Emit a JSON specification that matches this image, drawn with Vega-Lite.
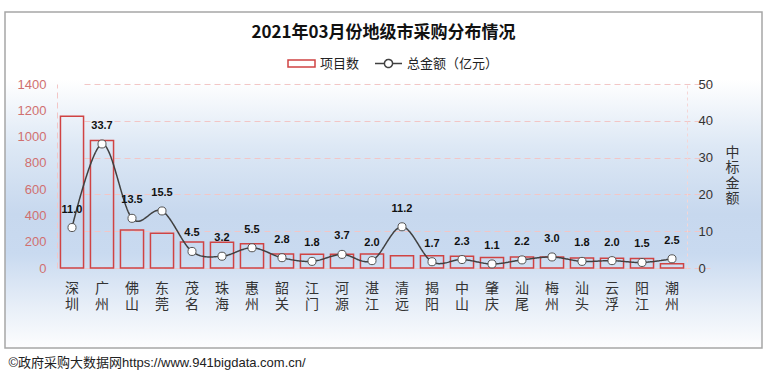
{
  "$schema": "https://vega.github.io/schema/vega-lite/v6.json",
  "width": 757,
  "height": 336,
  "autosize": {"type": "none"},
  "padding": {"left": 5, "top": 12, "right": 6, "bottom": 28},
  "background": "white",
  "config": {
    "view": {
      "fill": {
        "gradient": "linear",
        "x1": 0, "y1": 0, "x2": 0, "y2": 1,
        "stops": [
          {"offset": 0, "color": "#ffffff"},
          {"offset": 0.2, "color": "#ffffff"},
          {"offset": 0.4, "color": "#dde8f5"},
          {"offset": 0.6, "color": "#c7d8ee"},
          {"offset": 0.72, "color": "#c9daf0"},
          {"offset": 0.88, "color": "#e8eff8"},
          {"offset": 1, "color": "#fdfdfe"}
        ]
      },
      "stroke": "#a6a6a6",
      "strokeWidth": 1.5
    },
    "font": "Liberation Sans, Noto Sans CJK SC"
  },
  "title": {
    "text": "2021年03月份地级市采购分布情况",
    "font": "Noto Sans CJK SC",
    "fontSize": 17,
    "fontWeight": "bold",
    "color": "#111111",
    "anchor": "middle",
    "offset": -30
  },
  "data": {
    "values": [
      {"city": "深圳", "count": 1155, "amount": 11.0},
      {"city": "广州", "count": 970, "amount": 33.7},
      {"city": "佛山", "count": 290, "amount": 13.5},
      {"city": "东莞", "count": 265, "amount": 15.5},
      {"city": "茂名", "count": 198, "amount": 4.5},
      {"city": "珠海", "count": 195, "amount": 3.2},
      {"city": "惠州", "count": 185, "amount": 5.5},
      {"city": "韶关", "count": 107, "amount": 2.8},
      {"city": "江门", "count": 105, "amount": 1.8},
      {"city": "河源", "count": 104, "amount": 3.7},
      {"city": "湛江", "count": 106, "amount": 2.0},
      {"city": "清远", "count": 94, "amount": 11.2},
      {"city": "揭阳", "count": 93, "amount": 1.7},
      {"city": "中山", "count": 89, "amount": 2.3},
      {"city": "肇庆", "count": 80, "amount": 1.1},
      {"city": "汕尾", "count": 84, "amount": 2.2},
      {"city": "梅州", "count": 84, "amount": 3.0},
      {"city": "汕头", "count": 76, "amount": 1.8},
      {"city": "云浮", "count": 74, "amount": 2.0},
      {"city": "阳江", "count": 72, "amount": 1.5},
      {"city": "潮州", "count": 33, "amount": 2.5}
    ]
  },
  "encoding": {
    "x": {
      "field": "city",
      "type": "nominal",
      "sort": null,
      "scale": {"range": [52, 682], "paddingInner": 0.23, "paddingOuter": 0.115},
      "axis": {
        "orient": "bottom",
        "offset": -80,
        "labelAngle": 0,
        "labelExpr": "[substring(datum.label,0,1), substring(datum.label,1,2)]",
        "labelFont": "Noto Sans CJK SC",
        "labelFontSize": 14,
        "labelLineHeight": 16,
        "labelColor": "#333333",
        "labelPadding": 13,
        "labelOverlap": false,
        "ticks": false,
        "domain": false,
        "grid": false,
        "title": "©政府采购大数据网https://www.941bigdata.com.cn/",
        "titleX": 3,
        "titleY": 94,
        "titleAlign": "left",
        "titleAnchor": "start",
        "titleBaseline": "middle",
        "titleFontSize": 13,
        "titleFontWeight": "normal",
        "titleColor": "#222222"
      }
    }
  },
  "layer": [
    {
      "mark": {"type": "bar", "fill": "transparent", "strokeWidth": 1.5},
      "encoding": {
        "y": {
          "field": "count",
          "type": "quantitative",
          "scale": {"domain": [0, 1400], "range": [256, 72], "nice": false},
          "axis": {
            "orient": "left",
            "offset": -52,
            "values": [0, 200, 400, 600, 800, 1000, 1200, 1400],
            "format": "d",
            "title": null,
            "ticks": false,
            "grid": false,
            "domain": true,
            "domainColor": "#f2c6c6",
            "domainDash": [6, 4],
            "labelColor": "#d07070",
            "labelFontSize": 13,
            "labelPadding": 11
          }
        },
        "stroke": {
          "datum": "项目数",
          "type": "nominal",
          "scale": {"domain": ["项目数"], "range": ["#d04343"]},
          "legend": {
            "title": null,
            "orient": "none",
            "legendX": 282,
            "legendY": 37,
            "direction": "horizontal",
            "symbolType": "M-1,-0.26H1V0.26H-1Z",
            "symbolSize": 729,
            "symbolStrokeWidth": 1.5,
            "labelFont": "Noto Sans CJK SC",
            "labelFontSize": 13,
            "labelColor": "#222222",
            "labelOffset": 4
          }
        }
      }
    },
    {
      "encoding": {
        "y": {
          "field": "amount",
          "type": "quantitative",
          "scale": {"domain": [0, 50], "range": [256, 72], "nice": false},
          "axis": {
            "orient": "right",
            "offset": -75,
            "values": [0, 10, 20, 30, 40, 50],
            "grid": true,
            "gridColor": "#f2c6c6",
            "gridDash": [6, 4],
            "gridWidth": 1,
            "domain": true,
            "domainColor": "#f5d6d6",
            "domainDash": [3, 3],
            "ticks": false,
            "labelColor": "#333333",
            "labelFontSize": 13,
            "labelPadding": 11,
            "title": ["中", "标", "金", "额"],
            "titleFont": "Noto Sans CJK SC",
            "titleAngle": 0,
            "titleX": 45,
            "titleY": 140,
            "titleAlign": "center",
            "titleBaseline": "middle",
            "titleFontSize": 14,
            "titleFontWeight": "normal",
            "titleLineHeight": 15.5,
            "titleColor": "#333333"
          }
        }
      },
      "layer": [
        {
          "mark": {"type": "line", "interpolate": "cardinal", "strokeWidth": 1.5, "stroke": "#404040"},
          "encoding": {
            "strokeDash": {
              "datum": "总金额（亿元）",
              "type": "nominal",
              "scale": {"domain": ["总金额（亿元）"], "range": [[1, 0]]},
              "legend": {
                "title": null,
                "orient": "none",
                "legendX": 369,
                "legendY": 37,
                "direction": "horizontal",
                "symbolType": "M-1,0H-0.3M0.3,0H1M0.3,0A0.3,0.3,0,1,1,-0.3,0A0.3,0.3,0,1,1,0.3,0Z",
                "symbolSize": 729,
                "symbolStrokeWidth": 1.5,
                "symbolStrokeColor": "#404040",
                "symbolFillColor": "white",
                "labelFont": "Noto Sans CJK SC",
                "labelFontSize": 13,
                "labelColor": "#222222",
                "labelOffset": 4
              }
            }
          }
        },
        {
          "mark": {"type": "point", "filled": true, "fill": "white", "stroke": "#555555", "strokeWidth": 1, "size": 65, "opacity": 1}
        },
        {
          "mark": {"type": "text", "dy": -18, "fontSize": 11, "fontWeight": "bold", "color": "#111111", "baseline": "middle"},
          "encoding": {"text": {"field": "amount", "type": "quantitative", "format": ".1f"}}
        }
      ]
    }
  ],
  "resolve": {"scale": {"y": "independent"}}
}
